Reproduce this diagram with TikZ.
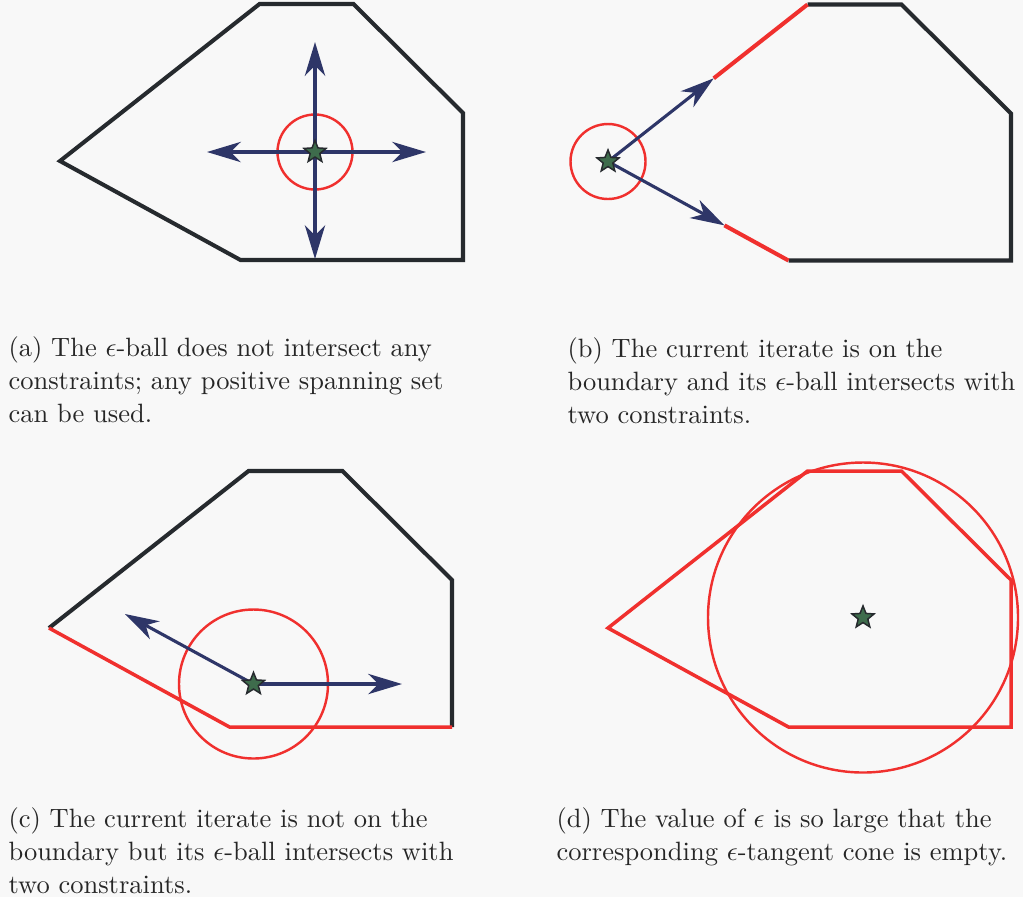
\documentclass[tikz,border=0pt]{standalone}
\usetikzlibrary{arrows.meta,shapes.geometric,calc}
\definecolor{polyblack}{RGB}{38,42,46}
\definecolor{conred}{RGB}{240,48,46}
\definecolor{dirblue}{RGB}{46,54,104}
\definecolor{stargreen}{RGB}{62,108,76}
\definecolor{paper}{RGB}{248,248,248}
\tikzset{
 boundary/.style={draw=polyblack, line width=1.5pt, line join=miter},
 activecon/.style={draw=conred, line width=1.3pt, line join=miter},
 eball/.style={draw=conred, line width=0.9pt},
 dirarrow/.style={draw=dirblue, line width=1.15pt, -{Stealth[length=12.5pt,width=7.5pt,inset=3.8pt]}},
 iterate/.style={star, star points=5, star point ratio=2.3, minimum size=8.6pt, inner sep=0pt, fill=stargreen, draw=polyblack, line width=0.55pt},
 caption/.style={anchor=north west, align=left, inner sep=0pt, text=black!85, font=\fontsize{9.8}{12.2}\selectfont}
}
\begin{document}
\begin{tikzpicture}[x=0.37pt,y=-0.37pt]
\useasboundingbox[fill=paper] (0,0) rectangle (1023,897);
% ---------- panel (a)
\coordinate (aL) at (60,161);
\coordinate (aA) at (259.5,4);
\coordinate (aB) at (353.5,4);
\coordinate (aC) at (463,113);
\coordinate (aD) at (463,260);
\coordinate (aE) at (240.5,260);
\coordinate (aS) at (315,152);
\coordinate (aU) at (315,42);
\coordinate (aDn) at (315,259);
\coordinate (aLt) at (207,152);
\coordinate (aRt) at (426,152);
\draw[boundary] (aL) -- (aA) -- (aB) -- (aC) -- (aD) -- (aE) -- cycle;
\draw[eball] (aS) circle [radius=37.5];
\draw[dirarrow] (aS) -- (aU);
\draw[dirarrow] (aS) -- (aDn);
\draw[dirarrow] (aS) -- (aLt);
\draw[dirarrow] (aS) -- (aRt);
\node[iterate] (stara) at (aS) {};
% ---------- panel (b)
\coordinate (bL) at (608,161.5);
\coordinate (bA) at (807.5,4.5);
\coordinate (bB) at (901.5,4.5);
\coordinate (bC) at (1011,113.5);
\coordinate (bD) at (1011,260.5);
\coordinate (bE) at (788.5,260.5);
\coordinate (bT1) at ($(bL)!0.53!(bA)$);
\coordinate (bT2) at ($(bL)!0.645!(bE)$);
\draw[boundary] (bA) -- (bB) -- (bC) -- (bD) -- (bE);
\draw[activecon, line width=1.5pt] (bT1) -- (bA);
\draw[activecon, line width=1.5pt] (bT2) -- (bE);
\draw[eball] (bL) circle [radius=37.5];
\draw[dirarrow] (bL) -- (bT1);
\draw[dirarrow] (bL) -- (bT2);
\node[iterate] (starb) at (bL) {};
% ---------- panel (c)
\coordinate (cL) at (49,628);
\coordinate (cA) at (248.5,471);
\coordinate (cB) at (342.5,471);
\coordinate (cC) at (452,580);
\coordinate (cD) at (452,727);
\coordinate (cE) at (229.5,727);
\coordinate (cS) at (253.5,684);
\coordinate (cT1) at (125,614);
\coordinate (cT2) at (402,684);
\draw[boundary] (cL) -- (cA) -- (cB) -- (cC) -- (cD);
\draw[activecon] (cL) -- (cE) -- (cD);
\draw[eball] (cS) circle [radius=74.5];
\draw[dirarrow] (cS) -- (cT1);
\draw[dirarrow] (cS) -- (cT2);
\node[iterate] (starc) at (cS) {};
% ---------- panel (d)
\coordinate (dL) at (608,628);
\coordinate (dA) at (807.5,471);
\coordinate (dB) at (901.5,471);
\coordinate (dC) at (1011,580);
\coordinate (dD) at (1011,727);
\coordinate (dE) at (788.5,727);
\coordinate (dS) at (863,617.5);
\draw[activecon] (dL) -- (dA) -- (dB) -- (dC) -- (dD) -- (dE) -- cycle;
\draw[eball] (dS) circle [radius=155];
\node[iterate] (stard) at (dS) {};
% ---------- captions
\node[caption] (capa) at (8,336) {(a) The $\epsilon$-ball does not intersect any\\ constraints; any positive spanning set\\ can be used.};
\node[caption] (capb) at (567,337) {(b) The current iterate is on the\\ boundary and its $\epsilon$-ball intersects with\\ two constraints.};
\node[caption] (capc) at (8,807) {(c) The current iterate is not on the\\ boundary but its $\epsilon$-ball intersects with\\ two constraints.};
\node[caption] (capd) at (556,807) {(d) The value of $\epsilon$ is so large that the\\ corresponding $\epsilon$-tangent cone is empty.};
\end{tikzpicture}
\end{document}
